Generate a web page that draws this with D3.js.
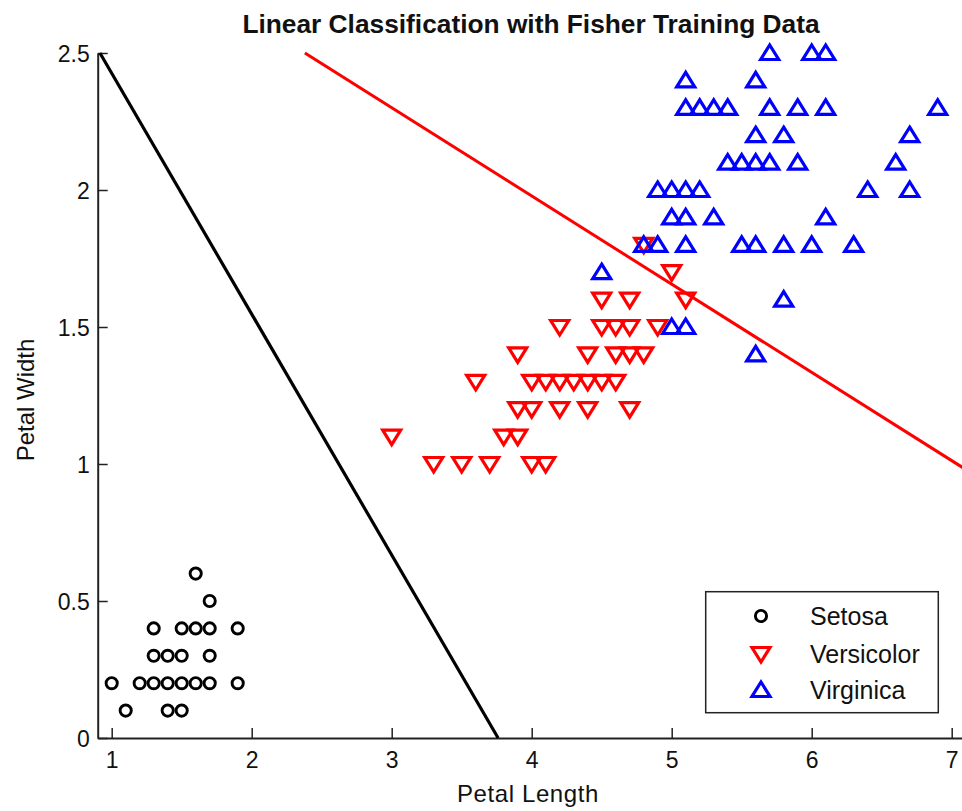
<!DOCTYPE html>
<html>
<head>
<meta charset="utf-8">
<script src="https://cdn.jsdelivr.net/npm/d3@7"></script>
<style>
  html, body { margin: 0; padding: 0; background: #fff; }
  svg { display: block; }
  text { font-family: "Liberation Sans", Arial, sans-serif; fill: #111; }
</style>
</head>
<body>
<svg id="chart" width="962" height="811"></svg>
<script>
// ---- Data (petal length, petal width) ----
const speciesNames = ["Setosa", "Versicolor", "Virginica"];
const speciesColors = ["#000000", "#ff0000", "#0000ff"];
const speciesMarkers = ["circle", "down", "up"];

const setosaLength = [1.6, 1.7, 1.3, 1.5, 1.6, 1.7, 1.9, 1.3, 1.4, 1.5, 1.7, 1.0, 1.2, 1.3, 1.4, 1.5, 1.6, 1.7, 1.9, 1.1, 1.4, 1.5];
const setosaWidth  = [0.6, 0.5, 0.4, 0.4, 0.4, 0.4, 0.4, 0.3, 0.3, 0.3, 0.3, 0.2, 0.2, 0.2, 0.2, 0.2, 0.2, 0.2, 0.2, 0.1, 0.1, 0.1];

const versicolorLength = [4.8, 5.0, 4.5, 4.7, 5.1, 4.2, 4.5, 4.6, 4.7, 4.9, 3.9, 4.4, 4.6, 4.7, 4.8, 3.6, 4.0, 4.1, 4.2, 4.3, 4.4, 4.5, 4.6, 3.9, 4.0, 4.2, 4.4, 4.7, 3.0, 3.8, 3.9, 3.3, 3.5, 3.7, 4.0, 4.1];
const versicolorWidth  = [1.8, 1.7, 1.6, 1.6, 1.6, 1.5, 1.5, 1.5, 1.5, 1.5, 1.4, 1.4, 1.4, 1.4, 1.4, 1.3, 1.3, 1.3, 1.3, 1.3, 1.3, 1.3, 1.3, 1.2, 1.2, 1.2, 1.2, 1.2, 1.1, 1.1, 1.1, 1.0, 1.0, 1.0, 1.0, 1.0];

const virginicaLength = [5.7, 6.0, 6.1, 5.1, 5.6, 5.1, 5.2, 5.3, 5.4, 5.7, 5.9, 6.1, 6.9, 5.6, 5.8, 6.7, 5.4, 5.5, 5.6, 5.7, 5.9, 6.6, 4.9, 5.0, 5.1, 5.2, 6.4, 6.7, 5.0, 5.1, 5.3, 6.1, 4.8, 4.9, 5.1, 5.5, 5.6, 5.8, 6.0, 6.3, 4.5, 5.8, 5.0, 5.1, 5.6];
const virginicaWidth  = [2.5, 2.5, 2.5, 2.4, 2.4, 2.3, 2.3, 2.3, 2.3, 2.3, 2.3, 2.3, 2.3, 2.2, 2.2, 2.2, 2.1, 2.1, 2.1, 2.1, 2.1, 2.1, 2.0, 2.0, 2.0, 2.0, 2.0, 2.0, 1.9, 1.9, 1.9, 1.9, 1.8, 1.8, 1.8, 1.8, 1.8, 1.8, 1.8, 1.8, 1.7, 1.6, 1.5, 1.5, 1.4];

// Decision boundaries (end points)
const boundarySetosaLength = [0.916, 3.76];
const boundarySetosaWidth  = [2.5, 0.0];
const boundaryVersicolorLength = [2.38, 7.1];
const boundaryVersicolorWidth  = [2.5, 0.98];

const xTicks = [1, 2, 3, 4, 5, 6, 7];
const yTicks = [0, 0.5, 1, 1.5, 2, 2.5];
const xDomain = [0.9, 7.1];
const yDomain = [0, 2.5];

// ---- Drawing ----
const svg = d3.select("#chart");
const x = d3.scaleLinear().domain(xDomain).range([97.7, 965.7]);
const y = d3.scaleLinear().domain(yDomain).range([738, 53]);

const axisColor = "#222";

// Y axis (ticks inward)
const yAxis = svg.append("g").attr("transform", `translate(${x(xDomain[0])},0)`)
  .call(d3.axisRight(y).tickValues(yTicks).tickSize(10).tickFormat(d3.format("")).tickSizeOuter(0));
yAxis.select(".domain").attr("stroke", axisColor).attr("stroke-width", 2);
yAxis.selectAll(".tick line").attr("stroke", axisColor).attr("stroke-width", 1.5);
yAxis.selectAll(".tick text")
  .attr("x", -8).attr("text-anchor", "end").attr("dy", "0.36em")
  .style("font-size", "23px").style("font-family", '"Liberation Sans", Arial, sans-serif')
  .attr("fill", "#222");

// X axis (ticks inward)
const xAxis = svg.append("g").attr("transform", `translate(0,${y(0)})`)
  .call(d3.axisTop(x).tickValues(xTicks).tickSize(10).tickFormat(d3.format("d")).tickSizeOuter(0));
xAxis.select(".domain").attr("stroke", axisColor).attr("stroke-width", 2);
xAxis.selectAll(".tick line").attr("stroke", axisColor).attr("stroke-width", 1.5);
xAxis.selectAll(".tick text")
  .attr("y", 30).attr("dy", 0).attr("text-anchor", "middle")
  .style("font-size", "23px").style("font-family", '"Liberation Sans", Arial, sans-serif')
  .attr("fill", "#222");

// Markers
function markerPath(kind) {
  if (kind === "up") return "M0,-8L9,6.5L-9,6.5Z";
  if (kind === "down") return "M0,8L9,-6.5L-9,-6.5Z";
  return null;
}
function drawMarker(g, kind, color) {
  if (kind === "circle") {
    g.append("circle").attr("r", 5.6).attr("fill", "none").attr("stroke", color).attr("stroke-width", 2.9);
  } else {
    g.append("path").attr("d", markerPath(kind)).attr("fill", "none")
      .attr("stroke", color).attr("stroke-width", 3.2).attr("stroke-linejoin", "miter");
  }
}

const groups = [
  {len: setosaLength, wid: setosaWidth},
  {len: versicolorLength, wid: versicolorWidth},
  {len: virginicaLength, wid: virginicaWidth}
];

groups.forEach((grp, i) => {
  const pts = grp.len.map((v, k) => [v, grp.wid[k]]);
  const gg = svg.append("g");
  pts.forEach(p => {
    const m = gg.append("g").attr("transform", `translate(${x(p[0])},${y(p[1])})`);
    drawMarker(m, speciesMarkers[i], speciesColors[i]);
  });
});

// Boundary lines
const line = d3.line().x(d => x(d[0])).y(d => y(d[1]));
svg.append("path")
  .datum(boundarySetosaLength.map((v, k) => [v, boundarySetosaWidth[k]]))
  .attr("d", line).attr("fill", "none").attr("stroke", "#000").attr("stroke-width", 3.2);
svg.append("path")
  .datum(boundaryVersicolorLength.map((v, k) => [v, boundaryVersicolorWidth[k]]))
  .attr("d", line).attr("fill", "none").attr("stroke", "#ff0000").attr("stroke-width", 3);

// Title
svg.append("text").attr("x", 531).attr("y", 33).attr("text-anchor", "middle")
  .style("font-size", "26.3px").style("font-weight", "bold")
  .text("Linear Classification with Fisher Training Data");

// Axis labels
svg.append("text").attr("x", 528).attr("y", 802).attr("text-anchor", "middle")
  .style("font-size", "24px").style("letter-spacing", "0.6px").text("Petal Length");
svg.append("text").attr("transform", "translate(34,400) rotate(-90)").attr("text-anchor", "middle")
  .style("font-size", "24px").text("Petal Width");

// Legend
const legend = svg.append("g");
legend.append("rect").attr("x", 705.7).attr("y", 591.7).attr("width", 232.6).attr("height", 121)
  .attr("fill", "#fff").attr("stroke", "#222").attr("stroke-width", 1.5);
const legendY = [616, 654, 690];
speciesNames.forEach((name, i) => {
  const m = legend.append("g").attr("transform", `translate(761,${legendY[i]})`);
  drawMarker(m, speciesMarkers[i], speciesColors[i]);
  legend.append("text").attr("x", 810).attr("y", legendY[i]).attr("dy", "0.36em")
    .style("font-size", "25px").text(name);
});
</script>
</body>
</html>
